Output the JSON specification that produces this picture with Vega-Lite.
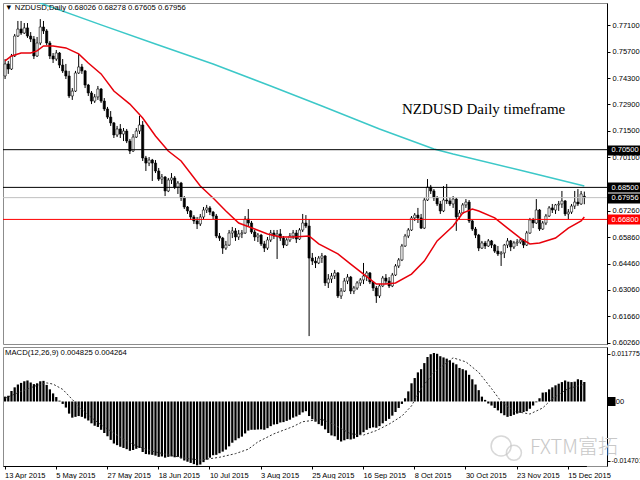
{
  "$schema": "https://vega.github.io/schema/vega-lite/v6.json",
  "background": "white",
  "padding": {"left": 1, "top": 2, "right": 0, "bottom": 0},
  "spacing": 3,
  "bounds": "flush",
  "config": {
    "font": "Liberation Sans",
    "view": {"stroke": "#8c8c8c"},
    "axis": {"grid": false, "title": null, "labelFont": "Liberation Sans", "labelFontSize": 7.5, "labelColor": "black", "domainColor": "black", "tickColor": "black"}
  },
  "datasets": {
    "bars": [
      {"d":"2015-04-13","o":0.7441,"h":0.7531,"l":0.7425,"c":0.7505,"m":0.0012},
      {"d":"2015-04-14","o":0.7505,"h":0.7521,"l":0.7452,"c":0.7478,"m":0.0014},
      {"d":"2015-04-15","o":0.7478,"h":0.7558,"l":0.7473,"c":0.7547,"m":0.0026},
      {"d":"2015-04-16","o":0.7547,"h":0.7664,"l":0.7542,"c":0.7653,"m":0.0035},
      {"d":"2015-04-17","o":0.7653,"h":0.7733,"l":0.7648,"c":0.7690,"m":0.0042},
      {"d":"2015-04-20","o":0.7690,"h":0.7733,"l":0.7659,"c":0.7669,"m":0.0046},
      {"d":"2015-04-21","o":0.7669,"h":0.7722,"l":0.7664,"c":0.7696,"m":0.0050},
      {"d":"2015-04-22","o":0.7696,"h":0.7722,"l":0.7643,"c":0.7653,"m":0.0052},
      {"d":"2015-04-23","o":0.7653,"h":0.7674,"l":0.7621,"c":0.7637,"m":0.0047},
      {"d":"2015-04-24","o":0.7637,"h":0.7653,"l":0.7531,"c":0.7547,"m":0.0043},
      {"d":"2015-04-27","o":0.7547,"h":0.7648,"l":0.7542,"c":0.7616,"m":0.0045},
      {"d":"2015-04-28","o":0.7616,"h":0.7743,"l":0.7605,"c":0.7701,"m":0.0050},
      {"d":"2015-04-29","o":0.7701,"h":0.7733,"l":0.7664,"c":0.7680,"m":0.0051},
      {"d":"2015-04-30","o":0.7680,"h":0.7690,"l":0.7605,"c":0.7616,"m":0.0041},
      {"d":"2015-05-01","o":0.7616,"h":0.7627,"l":0.7531,"c":0.7547,"m":0.0030},
      {"d":"2015-05-04","o":0.7547,"h":0.7563,"l":0.7510,"c":0.7531,"m":0.0020},
      {"d":"2015-05-05","o":0.7531,"h":0.7579,"l":0.7521,"c":0.7563,"m":0.0011},
      {"d":"2015-05-06","o":0.7563,"h":0.7568,"l":0.7483,"c":0.7499,"m":0.0002},
      {"d":"2015-05-07","o":0.7499,"h":0.7531,"l":0.7457,"c":0.7468,"m":-0.0006},
      {"d":"2015-05-08","o":0.7468,"h":0.7505,"l":0.7425,"c":0.7441,"m":-0.0015},
      {"d":"2015-05-11","o":0.7441,"h":0.7468,"l":0.7324,"c":0.7335,"m":-0.0030},
      {"d":"2015-05-12","o":0.7335,"h":0.7377,"l":0.7314,"c":0.7361,"m":-0.0040},
      {"d":"2015-05-13","o":0.7361,"h":0.7468,"l":0.7356,"c":0.7457,"m":-0.0038},
      {"d":"2015-05-14","o":0.7457,"h":0.7558,"l":0.7452,"c":0.7489,"m":-0.0036},
      {"d":"2015-05-15","o":0.7489,"h":0.7505,"l":0.7452,"c":0.7468,"m":-0.0038},
      {"d":"2015-05-18","o":0.7468,"h":0.7473,"l":0.7377,"c":0.7393,"m":-0.0042},
      {"d":"2015-05-19","o":0.7393,"h":0.7399,"l":0.7335,"c":0.7351,"m":-0.0047},
      {"d":"2015-05-20","o":0.7351,"h":0.7361,"l":0.7292,"c":0.7308,"m":-0.0054},
      {"d":"2015-05-21","o":0.7308,"h":0.7345,"l":0.7298,"c":0.7330,"m":-0.0060},
      {"d":"2015-05-22","o":0.7330,"h":0.7388,"l":0.7314,"c":0.7372,"m":-0.0063},
      {"d":"2015-05-25","o":0.7372,"h":0.7377,"l":0.7298,"c":0.7308,"m":-0.0070},
      {"d":"2015-05-26","o":0.7308,"h":0.7324,"l":0.7255,"c":0.7266,"m":-0.0078},
      {"d":"2015-05-27","o":0.7266,"h":0.7277,"l":0.7213,"c":0.7223,"m":-0.0086},
      {"d":"2015-05-28","o":0.7223,"h":0.7255,"l":0.7176,"c":0.7192,"m":-0.0095},
      {"d":"2015-05-29","o":0.7192,"h":0.7197,"l":0.7112,"c":0.7128,"m":-0.0104},
      {"d":"2015-06-01","o":0.7128,"h":0.7176,"l":0.7117,"c":0.7160,"m":-0.0108},
      {"d":"2015-06-02","o":0.7160,"h":0.7186,"l":0.7112,"c":0.7133,"m":-0.0112},
      {"d":"2015-06-03","o":0.7133,"h":0.7165,"l":0.7096,"c":0.7149,"m":-0.0115},
      {"d":"2015-06-04","o":0.7149,"h":0.7160,"l":0.7085,"c":0.7096,"m":-0.0118},
      {"d":"2015-06-05","o":0.7096,"h":0.7107,"l":0.7027,"c":0.7043,"m":-0.0122},
      {"d":"2015-06-08","o":0.7043,"h":0.7133,"l":0.7038,"c":0.7117,"m":-0.0120},
      {"d":"2015-06-09","o":0.7117,"h":0.7165,"l":0.7112,"c":0.7149,"m":-0.0117},
      {"d":"2015-06-10","o":0.7149,"h":0.7229,"l":0.7133,"c":0.7181,"m":-0.0115},
      {"d":"2015-06-11","o":0.7181,"h":0.7202,"l":0.6990,"c":0.7006,"m":-0.0125},
      {"d":"2015-06-12","o":0.7006,"h":0.7017,"l":0.6937,"c":0.6979,"m":-0.0130},
      {"d":"2015-06-15","o":0.6979,"h":0.7011,"l":0.6963,"c":0.6995,"m":-0.0131},
      {"d":"2015-06-16","o":0.6995,"h":0.7001,"l":0.6884,"c":0.6979,"m":-0.0132},
      {"d":"2015-06-17","o":0.6979,"h":0.6995,"l":0.6926,"c":0.6937,"m":-0.0134},
      {"d":"2015-06-18","o":0.6937,"h":0.6953,"l":0.6884,"c":0.6894,"m":-0.0137},
      {"d":"2015-06-19","o":0.6894,"h":0.6921,"l":0.6868,"c":0.6905,"m":-0.0136},
      {"d":"2015-06-22","o":0.6905,"h":0.6910,"l":0.6804,"c":0.6831,"m":-0.0139},
      {"d":"2015-06-23","o":0.6831,"h":0.6900,"l":0.6825,"c":0.6889,"m":-0.0137},
      {"d":"2015-06-24","o":0.6889,"h":0.6926,"l":0.6868,"c":0.6900,"m":-0.0136},
      {"d":"2015-06-25","o":0.6900,"h":0.6910,"l":0.6841,"c":0.6852,"m":-0.0138},
      {"d":"2015-06-26","o":0.6852,"h":0.6884,"l":0.6815,"c":0.6873,"m":-0.0137},
      {"d":"2015-06-29","o":0.6873,"h":0.6879,"l":0.6778,"c":0.6794,"m":-0.0141},
      {"d":"2015-06-30","o":0.6794,"h":0.6804,"l":0.6735,"c":0.6746,"m":-0.0146},
      {"d":"2015-07-01","o":0.6746,"h":0.6751,"l":0.6709,"c":0.6725,"m":-0.0149},
      {"d":"2015-07-02","o":0.6725,"h":0.6730,"l":0.6677,"c":0.6693,"m":-0.0152},
      {"d":"2015-07-03","o":0.6693,"h":0.6703,"l":0.6656,"c":0.6672,"m":-0.0155},
      {"d":"2015-07-06","o":0.6672,"h":0.6693,"l":0.6629,"c":0.6656,"m":-0.0158},
      {"d":"2015-07-07","o":0.6656,"h":0.6709,"l":0.6645,"c":0.6693,"m":-0.0156},
      {"d":"2015-07-08","o":0.6693,"h":0.6746,"l":0.6682,"c":0.6730,"m":-0.0150},
      {"d":"2015-07-09","o":0.6730,"h":0.6757,"l":0.6714,"c":0.6741,"m":-0.0144},
      {"d":"2015-07-10","o":0.6741,"h":0.6751,"l":0.6703,"c":0.6719,"m":-0.0139},
      {"d":"2015-07-13","o":0.6719,"h":0.6725,"l":0.6682,"c":0.6698,"m":-0.0133},
      {"d":"2015-07-14","o":0.6698,"h":0.6709,"l":0.6581,"c":0.6592,"m":-0.0132},
      {"d":"2015-07-15","o":0.6592,"h":0.6608,"l":0.6566,"c":0.6581,"m":-0.0128},
      {"d":"2015-07-16","o":0.6581,"h":0.6587,"l":0.6497,"c":0.6528,"m":-0.0124},
      {"d":"2015-07-17","o":0.6528,"h":0.6566,"l":0.6518,"c":0.6544,"m":-0.0119},
      {"d":"2015-07-20","o":0.6544,"h":0.6624,"l":0.6539,"c":0.6608,"m":-0.0111},
      {"d":"2015-07-21","o":0.6608,"h":0.6640,"l":0.6581,"c":0.6619,"m":-0.0102},
      {"d":"2015-07-22","o":0.6619,"h":0.6634,"l":0.6566,"c":0.6587,"m":-0.0096},
      {"d":"2015-07-23","o":0.6587,"h":0.6624,"l":0.6571,"c":0.6603,"m":-0.0091},
      {"d":"2015-07-24","o":0.6603,"h":0.6624,"l":0.6581,"c":0.6608,"m":-0.0087},
      {"d":"2015-07-27","o":0.6608,"h":0.6698,"l":0.6603,"c":0.6682,"m":-0.0079},
      {"d":"2015-07-28","o":0.6682,"h":0.6735,"l":0.6645,"c":0.6661,"m":-0.0072},
      {"d":"2015-07-29","o":0.6661,"h":0.6672,"l":0.6603,"c":0.6613,"m":-0.0070},
      {"d":"2015-07-30","o":0.6613,"h":0.6624,"l":0.6566,"c":0.6587,"m":-0.0070},
      {"d":"2015-07-31","o":0.6587,"h":0.6608,"l":0.6560,"c":0.6597,"m":-0.0069},
      {"d":"2015-08-03","o":0.6597,"h":0.6603,"l":0.6539,"c":0.6550,"m":-0.0069},
      {"d":"2015-08-04","o":0.6550,"h":0.6566,"l":0.6507,"c":0.6528,"m":-0.0070},
      {"d":"2015-08-05","o":0.6528,"h":0.6587,"l":0.6518,"c":0.6571,"m":-0.0066},
      {"d":"2015-08-06","o":0.6571,"h":0.6624,"l":0.6560,"c":0.6608,"m":-0.0061},
      {"d":"2015-08-07","o":0.6608,"h":0.6624,"l":0.6576,"c":0.6592,"m":-0.0057},
      {"d":"2015-08-10","o":0.6592,"h":0.6624,"l":0.6470,"c":0.6603,"m":-0.0056},
      {"d":"2015-08-11","o":0.6603,"h":0.6629,"l":0.6566,"c":0.6581,"m":-0.0052},
      {"d":"2015-08-12","o":0.6581,"h":0.6592,"l":0.6528,"c":0.6544,"m":-0.0051},
      {"d":"2015-08-13","o":0.6544,"h":0.6581,"l":0.6539,"c":0.6571,"m":-0.0048},
      {"d":"2015-08-14","o":0.6571,"h":0.6608,"l":0.6560,"c":0.6592,"m":-0.0045},
      {"d":"2015-08-17","o":0.6592,"h":0.6624,"l":0.6576,"c":0.6608,"m":-0.0040},
      {"d":"2015-08-18","o":0.6608,"h":0.6624,"l":0.6555,"c":0.6576,"m":-0.0037},
      {"d":"2015-08-19","o":0.6576,"h":0.6634,"l":0.6571,"c":0.6624,"m":-0.0033},
      {"d":"2015-08-20","o":0.6624,"h":0.6709,"l":0.6613,"c":0.6661,"m":-0.0027},
      {"d":"2015-08-21","o":0.6661,"h":0.6703,"l":0.6634,"c":0.6645,"m":-0.0024},
      {"d":"2015-08-24","o":0.6645,"h":0.6682,"l":0.6061,"c":0.6475,"m":-0.0036},
      {"d":"2015-08-25","o":0.6475,"h":0.6502,"l":0.6438,"c":0.6459,"m":-0.0044},
      {"d":"2015-08-26","o":0.6459,"h":0.6481,"l":0.6422,"c":0.6449,"m":-0.0050},
      {"d":"2015-08-27","o":0.6449,"h":0.6486,"l":0.6443,"c":0.6475,"m":-0.0056},
      {"d":"2015-08-28","o":0.6475,"h":0.6502,"l":0.6449,"c":0.6486,"m":-0.0060},
      {"d":"2015-08-31","o":0.6486,"h":0.6491,"l":0.6327,"c":0.6343,"m":-0.0069},
      {"d":"2015-09-01","o":0.6343,"h":0.6390,"l":0.6316,"c":0.6364,"m":-0.0078},
      {"d":"2015-09-02","o":0.6364,"h":0.6396,"l":0.6343,"c":0.6380,"m":-0.0084},
      {"d":"2015-09-03","o":0.6380,"h":0.6412,"l":0.6364,"c":0.6396,"m":-0.0086},
      {"d":"2015-09-04","o":0.6396,"h":0.6401,"l":0.6263,"c":0.6274,"m":-0.0095},
      {"d":"2015-09-07","o":0.6274,"h":0.6316,"l":0.6258,"c":0.6300,"m":-0.0099},
      {"d":"2015-09-08","o":0.6300,"h":0.6369,"l":0.6295,"c":0.6353,"m":-0.0096},
      {"d":"2015-09-09","o":0.6353,"h":0.6390,"l":0.6337,"c":0.6374,"m":-0.0093},
      {"d":"2015-09-10","o":0.6374,"h":0.6380,"l":0.6284,"c":0.6300,"m":-0.0094},
      {"d":"2015-09-11","o":0.6300,"h":0.6327,"l":0.6284,"c":0.6316,"m":-0.0092},
      {"d":"2015-09-14","o":0.6316,"h":0.6353,"l":0.6306,"c":0.6343,"m":-0.0088},
      {"d":"2015-09-15","o":0.6343,"h":0.6369,"l":0.6327,"c":0.6359,"m":-0.0082},
      {"d":"2015-09-16","o":0.6359,"h":0.6449,"l":0.6337,"c":0.6380,"m":-0.0076},
      {"d":"2015-09-17","o":0.6380,"h":0.6406,"l":0.6353,"c":0.6396,"m":-0.0070},
      {"d":"2015-09-18","o":0.6396,"h":0.6401,"l":0.6337,"c":0.6348,"m":-0.0066},
      {"d":"2015-09-21","o":0.6348,"h":0.6353,"l":0.6300,"c":0.6316,"m":-0.0064},
      {"d":"2015-09-22","o":0.6316,"h":0.6327,"l":0.6237,"c":0.6274,"m":-0.0065},
      {"d":"2015-09-23","o":0.6274,"h":0.6337,"l":0.6263,"c":0.6327,"m":-0.0061},
      {"d":"2015-09-24","o":0.6327,"h":0.6380,"l":0.6321,"c":0.6369,"m":-0.0054},
      {"d":"2015-09-25","o":0.6369,"h":0.6390,"l":0.6337,"c":0.6353,"m":-0.0048},
      {"d":"2015-09-28","o":0.6353,"h":0.6374,"l":0.6316,"c":0.6327,"m":-0.0043},
      {"d":"2015-09-29","o":0.6327,"h":0.6396,"l":0.6321,"c":0.6385,"m":-0.0035},
      {"d":"2015-09-30","o":0.6385,"h":0.6443,"l":0.6380,"c":0.6433,"m":-0.0026},
      {"d":"2015-10-01","o":0.6433,"h":0.6475,"l":0.6422,"c":0.6465,"m":-0.0016},
      {"d":"2015-10-02","o":0.6465,"h":0.6550,"l":0.6459,"c":0.6539,"m":-0.0006},
      {"d":"2015-10-05","o":0.6539,"h":0.6603,"l":0.6534,"c":0.6592,"m":0.0008},
      {"d":"2015-10-06","o":0.6592,"h":0.6634,"l":0.6581,"c":0.6624,"m":0.0025},
      {"d":"2015-10-07","o":0.6624,"h":0.6698,"l":0.6619,"c":0.6688,"m":0.0045},
      {"d":"2015-10-08","o":0.6688,"h":0.6714,"l":0.6672,"c":0.6703,"m":0.0058},
      {"d":"2015-10-09","o":0.6703,"h":0.6741,"l":0.6661,"c":0.6688,"m":0.0072},
      {"d":"2015-10-12","o":0.6688,"h":0.6709,"l":0.6629,"c":0.6634,"m":0.0080},
      {"d":"2015-10-13","o":0.6634,"h":0.6794,"l":0.6629,"c":0.6783,"m":0.0095},
      {"d":"2015-10-14","o":0.6783,"h":0.6894,"l":0.6778,"c":0.6852,"m":0.0110},
      {"d":"2015-10-15","o":0.6852,"h":0.6863,"l":0.6815,"c":0.6831,"m":0.0117},
      {"d":"2015-10-16","o":0.6831,"h":0.6841,"l":0.6778,"c":0.6794,"m":0.0120},
      {"d":"2015-10-19","o":0.6794,"h":0.6804,"l":0.6751,"c":0.6762,"m":0.0118},
      {"d":"2015-10-20","o":0.6762,"h":0.6778,"l":0.6709,"c":0.6725,"m":0.0112},
      {"d":"2015-10-21","o":0.6725,"h":0.6857,"l":0.6719,"c":0.6783,"m":0.0109},
      {"d":"2015-10-22","o":0.6783,"h":0.6868,"l":0.6762,"c":0.6778,"m":0.0106},
      {"d":"2015-10-23","o":0.6778,"h":0.6799,"l":0.6751,"c":0.6762,"m":0.0102},
      {"d":"2015-10-26","o":0.6762,"h":0.6804,"l":0.6741,"c":0.6788,"m":0.0096},
      {"d":"2015-10-27","o":0.6788,"h":0.6794,"l":0.6619,"c":0.6693,"m":0.0092},
      {"d":"2015-10-28","o":0.6693,"h":0.6730,"l":0.6682,"c":0.6714,"m":0.0083},
      {"d":"2015-10-29","o":0.6714,"h":0.6767,"l":0.6709,"c":0.6757,"m":0.0080},
      {"d":"2015-10-30","o":0.6757,"h":0.6788,"l":0.6741,"c":0.6772,"m":0.0077},
      {"d":"2015-11-02","o":0.6772,"h":0.6783,"l":0.6661,"c":0.6672,"m":0.0066},
      {"d":"2015-11-03","o":0.6672,"h":0.6677,"l":0.6619,"c":0.6629,"m":0.0055},
      {"d":"2015-11-04","o":0.6629,"h":0.6640,"l":0.6581,"c":0.6597,"m":0.0042},
      {"d":"2015-11-05","o":0.6597,"h":0.6603,"l":0.6512,"c":0.6528,"m":0.0028},
      {"d":"2015-11-06","o":0.6528,"h":0.6566,"l":0.6523,"c":0.6555,"m":0.0012},
      {"d":"2015-11-09","o":0.6555,"h":0.6566,"l":0.6523,"c":0.6539,"m":0.0004},
      {"d":"2015-11-10","o":0.6539,"h":0.6576,"l":0.6534,"c":0.6566,"m":-0.0005},
      {"d":"2015-11-11","o":0.6566,"h":0.6571,"l":0.6528,"c":0.6544,"m":-0.0010},
      {"d":"2015-11-12","o":0.6544,"h":0.6550,"l":0.6502,"c":0.6512,"m":-0.0016},
      {"d":"2015-11-13","o":0.6512,"h":0.6539,"l":0.6486,"c":0.6497,"m":-0.0022},
      {"d":"2015-11-16","o":0.6497,"h":0.6512,"l":0.6433,"c":0.6502,"m":-0.0029},
      {"d":"2015-11-17","o":0.6502,"h":0.6550,"l":0.6475,"c":0.6544,"m":-0.0034},
      {"d":"2015-11-18","o":0.6544,"h":0.6581,"l":0.6528,"c":0.6566,"m":-0.0038},
      {"d":"2015-11-19","o":0.6566,"h":0.6571,"l":0.6512,"c":0.6534,"m":-0.0036},
      {"d":"2015-11-20","o":0.6534,"h":0.6566,"l":0.6523,"c":0.6555,"m":-0.0033},
      {"d":"2015-11-23","o":0.6555,"h":0.6576,"l":0.6539,"c":0.6560,"m":-0.0030},
      {"d":"2015-11-24","o":0.6560,"h":0.6581,"l":0.6550,"c":0.6571,"m":-0.0028},
      {"d":"2015-11-25","o":0.6571,"h":0.6576,"l":0.6528,"c":0.6544,"m":-0.0026},
      {"d":"2015-11-26","o":0.6544,"h":0.6619,"l":0.6539,"c":0.6608,"m":-0.0024},
      {"d":"2015-11-27","o":0.6608,"h":0.6688,"l":0.6603,"c":0.6677,"m":-0.0018},
      {"d":"2015-11-30","o":0.6677,"h":0.6688,"l":0.6634,"c":0.6661,"m":-0.0010},
      {"d":"2015-12-01","o":0.6661,"h":0.6788,"l":0.6656,"c":0.6730,"m":-0.0002},
      {"d":"2015-12-02","o":0.6730,"h":0.6735,"l":0.6619,"c":0.6629,"m":0.0008},
      {"d":"2015-12-03","o":0.6629,"h":0.6672,"l":0.6624,"c":0.6661,"m":0.0022},
      {"d":"2015-12-04","o":0.6661,"h":0.6709,"l":0.6650,"c":0.6698,"m":0.0023},
      {"d":"2015-12-07","o":0.6698,"h":0.6751,"l":0.6693,"c":0.6741,"m":0.0030},
      {"d":"2015-12-08","o":0.6741,"h":0.6762,"l":0.6714,"c":0.6730,"m":0.0035},
      {"d":"2015-12-09","o":0.6730,"h":0.6762,"l":0.6709,"c":0.6757,"m":0.0040},
      {"d":"2015-12-10","o":0.6757,"h":0.6778,"l":0.6725,"c":0.6762,"m":0.0044},
      {"d":"2015-12-11","o":0.6762,"h":0.6831,"l":0.6741,"c":0.6778,"m":0.0048},
      {"d":"2015-12-14","o":0.6778,"h":0.6783,"l":0.6698,"c":0.6709,"m":0.0052},
      {"d":"2015-12-15","o":0.6709,"h":0.6735,"l":0.6682,"c":0.6719,"m":0.0049},
      {"d":"2015-12-16","o":0.6719,"h":0.6762,"l":0.6709,"c":0.6751,"m":0.0048},
      {"d":"2015-12-17","o":0.6751,"h":0.6831,"l":0.6735,"c":0.6772,"m":0.0049},
      {"d":"2015-12-18","o":0.6772,"h":0.6841,"l":0.6751,"c":0.6762,"m":0.0055},
      {"d":"2015-12-21","o":0.6762,"h":0.6831,"l":0.6757,"c":0.6815,"m":0.0053},
      {"d":"2015-12-22","o":0.68026,"h":0.68278,"l":0.67605,"c":0.67956,"m":0.004825}
    ],
    "ma20": [
      {"d":"2015-04-13","v":0.7521},{"d":"2015-04-15","v":0.7547},{"d":"2015-04-20","v":0.7563},
      {"d":"2015-04-23","v":0.7563},{"d":"2015-04-27","v":0.7574},{"d":"2015-04-29","v":0.7600},
      {"d":"2015-05-04","v":0.7600},{"d":"2015-05-08","v":0.7590},{"d":"2015-05-14","v":0.7558},
      {"d":"2015-05-19","v":0.7510},{"d":"2015-05-25","v":0.7452},{"d":"2015-05-29","v":0.7361},
      {"d":"2015-06-05","v":0.7292},{"d":"2015-06-11","v":0.7218},{"d":"2015-06-17","v":0.7123},
      {"d":"2015-06-23","v":0.7043},{"d":"2015-06-29","v":0.6990},{"d":"2015-07-07","v":0.6857},
      {"d":"2015-07-13","v":0.6794},{"d":"2015-07-17","v":0.6725},{"d":"2015-07-23","v":0.6661},
      {"d":"2015-07-30","v":0.6629},{"d":"2015-08-05","v":0.6603},{"d":"2015-08-11","v":0.6587},
      {"d":"2015-08-17","v":0.6587},{"d":"2015-08-24","v":0.6592},{"d":"2015-08-27","v":0.6550},
      {"d":"2015-09-04","v":0.6497},{"d":"2015-09-10","v":0.6443},{"d":"2015-09-16","v":0.6390},
      {"d":"2015-09-22","v":0.6337},{"d":"2015-09-25","v":0.6337},{"d":"2015-09-30","v":0.6343},
      {"d":"2015-10-07","v":0.6390},{"d":"2015-10-13","v":0.6459},{"d":"2015-10-19","v":0.6566},
      {"d":"2015-10-26","v":0.6645},{"d":"2015-10-29","v":0.6714},{"d":"2015-11-03","v":0.6735},
      {"d":"2015-11-05","v":0.6725},{"d":"2015-11-12","v":0.6688},{"d":"2015-11-18","v":0.6634},
      {"d":"2015-11-24","v":0.6581},{"d":"2015-11-27","v":0.6550},{"d":"2015-12-02","v":0.6555},
      {"d":"2015-12-09","v":0.6581},{"d":"2015-12-15","v":0.6634},{"d":"2015-12-21","v":0.6672},
      {"d":"2015-12-22","v":0.6693}
    ],
    "ma200": [
      {"d":"2015-04-13","v":0.7892},{"d":"2015-04-28","v":0.7828},{"d":"2015-05-25","v":0.7712},
      {"d":"2015-06-17","v":0.7611},{"d":"2015-07-13","v":0.7505},{"d":"2015-08-06","v":0.7388},
      {"d":"2015-08-28","v":0.7282},{"d":"2015-09-23","v":0.7160},{"d":"2015-10-16","v":0.7054},
      {"d":"2015-10-26","v":0.7027},{"d":"2015-11-25","v":0.6937},{"d":"2015-12-22","v":0.6857}
    ],
    "sig": [
      {"d":"2015-04-13","v":0.0008},{"d":"2015-04-20","v":0.0025},{"d":"2015-04-27","v":0.0040},
      {"d":"2015-04-30","v":0.0046},{"d":"2015-05-04","v":0.0043},{"d":"2015-05-07","v":0.0030},
      {"d":"2015-05-12","v":0.0005},{"d":"2015-05-15","v":-0.0020},{"d":"2015-05-20","v":-0.0040},
      {"d":"2015-05-25","v":-0.0058},{"d":"2015-05-29","v":-0.0078},{"d":"2015-06-03","v":-0.0093},
      {"d":"2015-06-09","v":-0.0110},{"d":"2015-06-16","v":-0.0123},{"d":"2015-06-23","v":-0.0132},
      {"d":"2015-06-30","v":-0.0140},{"d":"2015-07-07","v":-0.0145},{"d":"2015-07-15","v":-0.0138},
      {"d":"2015-07-22","v":-0.0129},{"d":"2015-07-28","v":-0.0118},{"d":"2015-07-31","v":-0.0100},
      {"d":"2015-08-07","v":-0.0080},{"d":"2015-08-17","v":-0.0062},{"d":"2015-08-20","v":-0.0050},
      {"d":"2015-08-28","v":-0.0044},{"d":"2015-09-03","v":-0.0058},{"d":"2015-09-10","v":-0.0080},
      {"d":"2015-09-16","v":-0.0083},{"d":"2015-09-22","v":-0.0072},{"d":"2015-09-28","v":-0.0056},
      {"d":"2015-10-02","v":-0.0036},{"d":"2015-10-07","v":-0.0011},{"d":"2015-10-12","v":0.0032},
      {"d":"2015-10-16","v":0.0072},{"d":"2015-10-26","v":0.0108},{"d":"2015-10-30","v":0.0098},
      {"d":"2015-11-05","v":0.0072},{"d":"2015-11-11","v":0.0032},{"d":"2015-11-16","v":0.0000},
      {"d":"2015-11-20","v":-0.0024},{"d":"2015-11-27","v":-0.0031},{"d":"2015-12-03","v":-0.0016},
      {"d":"2015-12-08","v":0.0007},{"d":"2015-12-15","v":0.0032},{"d":"2015-12-22","v":0.004264}
    ],
    "levels": [
      {"v":0.705,"kind":"level"},{"v":0.685,"kind":"level"},{"v":0.67956,"kind":"bid"},{"v":0.668,"kind":"pivot"}
    ]
  },
  "vconcat": [
    {
      "width": 604,
      "height": 341,
      "resolve": {"axis": {"y": "independent"}},
      "layer": [
        {
          "encoding": {"x": {"field": "d", "type": "ordinal", "scale": {"type": "band", "paddingInner": 0.3, "paddingOuter": 0.3, "range": [0, 583.4]}, "axis": null}},
          "layer": [
            {
              "data": {"name": "bars"},
              "mark": {"type": "rule", "color": "black", "strokeWidth": 1},
              "encoding": {
                "y": {"field": "l", "type": "quantitative", "scale": {"domain": [0.6019, 0.78283], "zero": false, "nice": false},
                  "axis": {"orient": "right", "values": [0.771, 0.757, 0.743, 0.729, 0.715, 0.701, 0.6726, 0.6586, 0.6446, 0.6306, 0.6166, 0.6026], "labelExpr": "format(datum.value, '.5f')", "labelOverlap": false, "labelFlush": false, "labelBound": false, "tickSize": 3, "labelPadding": 2}},
                "y2": {"field": "h"}
              }
            },
            {
              "data": {"name": "bars"},
              "mark": {"type": "bar", "stroke": "black", "strokeWidth": 0.6},
              "encoding": {
                "y": {"field": "o", "type": "quantitative", "scale": {"domain": [0.6019, 0.78283], "zero": false, "nice": false},
                  "axis": {"orient": "right", "values": [0.771, 0.757, 0.743, 0.729, 0.715, 0.701, 0.6726, 0.6586, 0.6446, 0.6306, 0.6166, 0.6026], "labelExpr": "format(datum.value, '.5f')", "labelOverlap": false, "labelFlush": false, "labelBound": false, "tickSize": 3, "labelPadding": 2}},
                "y2": {"field": "c"},
                "fill": {"condition": {"test": "datum.c >= datum.o", "value": "white"}, "value": "black"}
              }
            },
            {
              "data": {"name": "ma20"},
              "mark": {"type": "line", "color": "#e8000b", "strokeWidth": 1.5},
              "encoding": {"y": {"field": "v", "type": "quantitative", "scale": {"domain": [0.6019, 0.78283], "zero": false, "nice": false},
                "axis": {"orient": "right", "values": [0.771, 0.757, 0.743, 0.729, 0.715, 0.701, 0.6726, 0.6586, 0.6446, 0.6306, 0.6166, 0.6026], "labelExpr": "format(datum.value, '.5f')", "labelOverlap": false, "labelFlush": false, "labelBound": false, "tickSize": 3, "labelPadding": 2}}}
            },
            {
              "data": {"name": "ma200"},
              "mark": {"type": "line", "color": "#3cc8c8", "strokeWidth": 1.5, "clip": true},
              "encoding": {"y": {"field": "v", "type": "quantitative", "scale": {"domain": [0.6019, 0.78283], "zero": false, "nice": false},
                "axis": {"orient": "right", "values": [0.771, 0.757, 0.743, 0.729, 0.715, 0.701, 0.6726, 0.6586, 0.6446, 0.6306, 0.6166, 0.6026], "labelExpr": "format(datum.value, '.5f')", "labelOverlap": false, "labelFlush": false, "labelBound": false, "tickSize": 3, "labelPadding": 2}}}
            },
            {
              "data": {"values": [{"d": "2015-04-13", "v": 0.7802, "t": "▼ NZDUSD,Daily 0.68026 0.68278 0.67605 0.67956"}]},
              "mark": {"type": "text", "align": "left", "baseline": "middle", "fontSize": 7.7, "color": "black"},
              "encoding": {
                "y": {"field": "v", "type": "quantitative", "scale": {"domain": [0.6019, 0.78283], "zero": false, "nice": false},
                  "axis": {"orient": "right", "values": [0.771, 0.757, 0.743, 0.729, 0.715, 0.701, 0.6726, 0.6586, 0.6446, 0.6306, 0.6166, 0.6026], "labelExpr": "format(datum.value, '.5f')", "labelOverlap": false, "labelFlush": false, "labelBound": false, "tickSize": 3, "labelPadding": 2}},
                "text": {"field": "t"}
              }
            },
            {
              "data": {"values": [{"d": "2015-10-02", "v": 0.7266, "t": "NZDUSD Daily timeframe"}]},
              "mark": {"type": "text", "align": "left", "baseline": "middle", "font": "Liberation Serif", "fontSize": 15, "color": "black"},
              "encoding": {
                "y": {"field": "v", "type": "quantitative", "scale": {"domain": [0.6019, 0.78283], "zero": false, "nice": false},
                  "axis": {"orient": "right", "values": [0.771, 0.757, 0.743, 0.729, 0.715, 0.701, 0.6726, 0.6586, 0.6446, 0.6306, 0.6166, 0.6026], "labelExpr": "format(datum.value, '.5f')", "labelOverlap": false, "labelFlush": false, "labelBound": false, "tickSize": 3, "labelPadding": 2}},
                "text": {"field": "t"}
              }
            }
          ]
        },
        {
          "data": {"name": "levels"},
          "mark": {"type": "rule", "strokeWidth": 1},
          "encoding": {
            "y": {
              "field": "v", "type": "quantitative",
              "scale": {"domain": [0.6019, 0.78283], "zero": false, "nice": false},
              "axis": {
                "orient": "right",
                "values": [0.705, 0.685, 0.67956, 0.668],
                "labelExpr": "format(datum.value, '.5f')",
                "labelOverlap": false, "labelFlush": false, "labelBound": false,
                "domain": false,
                "tickSize": 34, "tickWidth": 10, "labelPadding": -30,
                "labelColor": "white",
                "tickColor": {"condition": {"test": "datum.value == 0.668", "value": "#ff0000"}, "value": "black"}
              }
            },
            "color": {"field": "kind", "type": "nominal", "scale": {"domain": ["level", "pivot", "bid"], "range": ["black", "#ff0000", "#c0c0c0"]}, "legend": null}
          }
        }
      ]
    },
    {
      "width": 604,
      "height": 119,
      "resolve": {"axis": {"y": "independent"}},
      "layer": [
        {
          "encoding": {
            "x": {
              "field": "d", "type": "ordinal",
              "scale": {"type": "band", "paddingInner": 0.3, "paddingOuter": 0.3, "range": [0, 583.4]},
              "axis": {
                "values": ["2015-04-13", "2015-05-05", "2015-05-27", "2015-06-18", "2015-07-10", "2015-08-03", "2015-08-25", "2015-09-16", "2015-10-08", "2015-10-30", "2015-11-23", "2015-12-15"],
                "labelExpr": "utcFormat(toDate(datum.value), '%-d %b %Y')",
                "labelAlign": "left", "labelAngle": 0, "labelPadding": 2, "tickSize": 3,
                "labelOverlap": false, "labelFlush": false, "labelBound": false
              }
            }
          },
          "layer": [
            {
              "data": {"name": "bars"},
              "mark": {"type": "bar", "color": "black"},
              "encoding": {
                "y": {"field": "m", "type": "quantitative", "scale": {"domain": [-0.01596, 0.01348], "zero": false, "nice": false},
                  "axis": {"orient": "right", "values": [0.011775, -0.014701], "labelExpr": "datum.value > 0 ? '0.011775' : '-0.014701'", "labelFontSize": 6.9, "labelOverlap": false, "labelFlush": false, "labelBound": false, "tickSize": 3, "labelPadding": 1}},
                "y2": {"datum": 0}
              }
            },
            {
              "data": {"name": "sig"},
              "mark": {"type": "line", "color": "#333333", "strokeWidth": 1, "strokeDash": [2, 2]},
              "encoding": {"y": {"field": "v", "type": "quantitative", "scale": {"domain": [-0.01596, 0.01348], "zero": false, "nice": false},
                "axis": {"orient": "right", "values": [0.011775, -0.014701], "labelExpr": "datum.value > 0 ? '0.011775' : '-0.014701'", "labelFontSize": 6.9, "labelOverlap": false, "labelFlush": false, "labelBound": false, "tickSize": 3, "labelPadding": 1}}}
            },
            {
              "data": {"values": [{"d": "2015-04-13", "v": 0.0120, "t": "MACD(12,26,9) 0.004825 0.004264"}]},
              "mark": {"type": "text", "align": "left", "baseline": "middle", "fontSize": 7.7, "color": "black"},
              "encoding": {
                "y": {"field": "v", "type": "quantitative", "scale": {"domain": [-0.01596, 0.01348], "zero": false, "nice": false},
                  "axis": {"orient": "right", "values": [0.011775, -0.014701], "labelExpr": "datum.value > 0 ? '0.011775' : '-0.014701'", "labelFontSize": 6.9, "labelOverlap": false, "labelFlush": false, "labelBound": false, "tickSize": 3, "labelPadding": 1}},
                "text": {"field": "t"}
              }
            },
            {
              "data": {"values": [{"d": "2015-11-16", "v": -0.0110}]},
              "mark": {"type": "point", "shape": "circle", "size": 400, "filled": false, "stroke": "#c8c8c8", "strokeWidth": 1.5},
              "encoding": {"y": {"field": "v", "type": "quantitative", "scale": {"domain": [-0.01596, 0.01348], "zero": false, "nice": false},
                "axis": {"orient": "right", "values": [0.011775, -0.014701], "labelExpr": "datum.value > 0 ? '0.011775' : '-0.014701'", "labelFontSize": 6.9, "labelOverlap": false, "labelFlush": false, "labelBound": false, "tickSize": 3, "labelPadding": 1}}}
            },
            {
              "data": {"values": [{"d": "2015-11-20", "v": -0.0127}]},
              "mark": {"type": "point", "shape": "circle", "size": 225, "filled": false, "stroke": "#c8c8c8", "strokeWidth": 1.5},
              "encoding": {"y": {"field": "v", "type": "quantitative", "scale": {"domain": [-0.01596, 0.01348], "zero": false, "nice": false},
                "axis": {"orient": "right", "values": [0.011775, -0.014701], "labelExpr": "datum.value > 0 ? '0.011775' : '-0.014701'", "labelFontSize": 6.9, "labelOverlap": false, "labelFlush": false, "labelBound": false, "tickSize": 3, "labelPadding": 1}}}
            },
            {
              "data": {"values": [{"d": "2015-11-27", "v": -0.0115, "t": "FXTM富拓"}]},
              "mark": {"type": "text", "align": "left", "baseline": "middle", "font": "Noto Sans CJK SC", "fontWeight": 300, "fontSize": 20, "color": "#c8c8c8"},
              "encoding": {
                "y": {"field": "v", "type": "quantitative", "scale": {"domain": [-0.01596, 0.01348], "zero": false, "nice": false},
                  "axis": {"orient": "right", "values": [0.011775, -0.014701], "labelExpr": "datum.value > 0 ? '0.011775' : '-0.014701'", "labelFontSize": 6.9, "labelOverlap": false, "labelFlush": false, "labelBound": false, "tickSize": 3, "labelPadding": 1}},
                "text": {"field": "t"}
              }
            }
          ]
        },
        {
          "mark": {"type": "rule", "color": "black", "strokeWidth": 1},
          "encoding": {
            "y": {
              "datum": 0, "type": "quantitative",
              "scale": {"domain": [-0.01596, 0.01348], "zero": false, "nice": false},
              "axis": {
                "orient": "right",
                "values": [0],
                "labelExpr": "'0.00'",
                "labelOverlap": false, "labelFlush": false, "labelBound": false,
                "domain": false,
                "tickSize": 8, "tickWidth": 9, "labelPadding": -6
              }
            }
          }
        }
      ]
    }
  ]
}
